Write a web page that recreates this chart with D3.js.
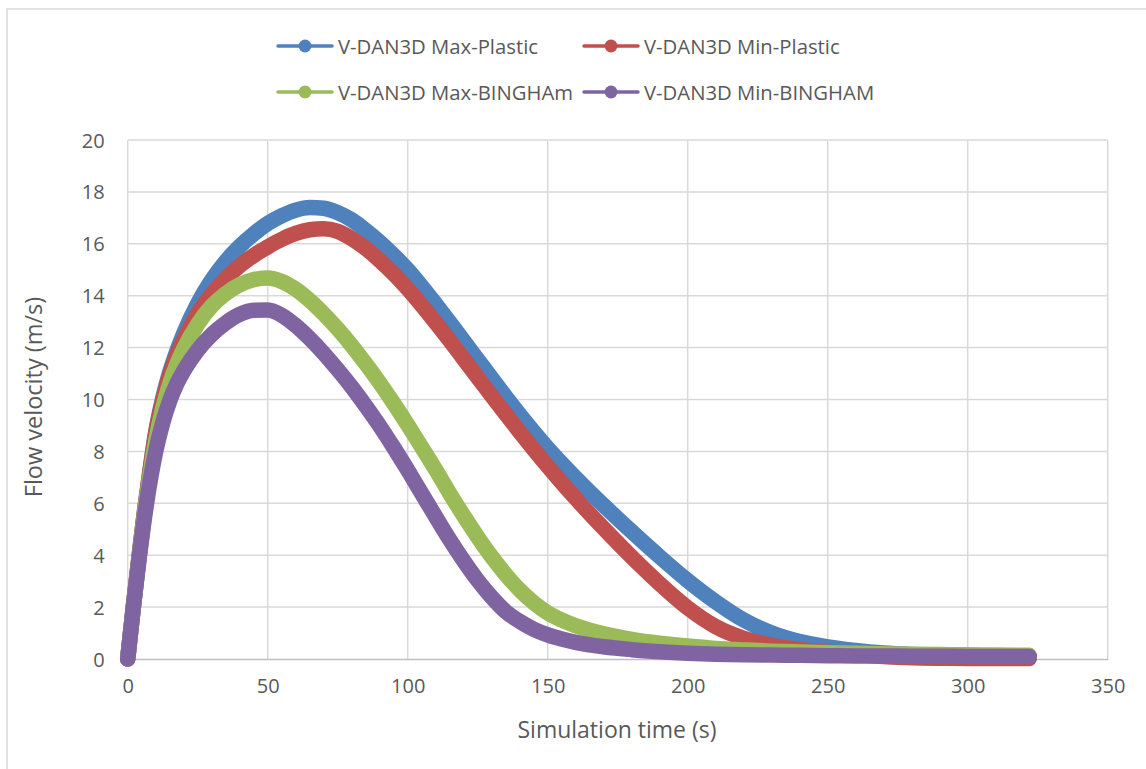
<!DOCTYPE html>
<html>
<head>
<meta charset="utf-8">
<script src="https://cdn.jsdelivr.net/npm/d3@7"></script>
<style>
  html, body { margin: 0; padding: 0; background: #fff; }
  svg { display: block; }
  text { font-family: "Open Sans", "Liberation Sans", sans-serif; fill: #595959; }
</style>
</head>
<body>
<svg id="chart" width="1146" height="769"></svg>
<script>
// Simulation time samples (s), shared by all four series
const time = [0, 2, 4, 6, 8, 10, 12.5, 15, 17.5, 20, 25, 30, 35, 40, 45, 50, 55, 60, 65, 70,
  75, 80, 85, 90, 95, 100, 105, 110, 115, 120, 125, 130, 135, 140, 145, 150, 155, 160,
  170, 180, 190, 200, 210, 220, 230, 240, 250, 260, 270, 280, 290, 300, 310, 322];

// Flow velocity (m/s) per series
const maxPlastic = [0, 2.0, 3.9, 5.7, 7.3, 8.75, 10.05, 11.05, 11.85, 12.55, 13.7, 14.6, 15.32, 15.9, 16.38, 16.78, 17.08, 17.3, 17.4, 17.37,
  17.2, 16.92, 16.52, 16.07, 15.56, 15.0, 14.36, 13.68, 12.98, 12.26, 11.54, 10.82, 10.11, 9.42, 8.76, 8.13, 7.54, 6.98,
  5.92, 4.91, 3.94, 3.02, 2.2, 1.5, 1.0, 0.67, 0.47, 0.33, 0.23, 0.17, 0.13, 0.1, 0.08, 0.07];
const minPlastic = [0, 2.0, 3.9, 5.7, 7.28, 8.7, 9.95, 10.95, 11.7, 12.3, 13.3, 14.05, 14.65, 15.15, 15.55, 15.88, 16.17, 16.4, 16.54, 16.58,
  16.48, 16.2, 15.82, 15.36, 14.84, 14.26, 13.63, 12.96, 12.27, 11.56, 10.85, 10.14, 9.44, 8.75, 8.08, 7.43, 6.8, 6.19,
  5.03, 3.93, 2.9, 1.97, 1.25, 0.8, 0.53, 0.37, 0.26, 0.17, 0.1, 0.05, 0.03, 0.02, 0.02, 0.02];
const maxBingham = [0, 2.0, 3.85, 5.6, 7.1, 8.4, 9.65, 10.6, 11.35, 11.95, 12.9, 13.6, 14.08, 14.42, 14.62, 14.68, 14.55, 14.25, 13.82, 13.3,
  12.72, 12.08, 11.38, 10.64, 9.85, 9.02, 8.16, 7.29, 6.38, 5.52, 4.7, 3.94, 3.26, 2.66, 2.17, 1.78, 1.5, 1.28,
  0.97, 0.76, 0.61, 0.5, 0.41, 0.35, 0.3, 0.27, 0.24, 0.22, 0.2, 0.18, 0.17, 0.16, 0.15, 0.14];
const minBingham = [0, 2.0, 3.8, 5.45, 6.85, 8.0, 9.1, 9.95, 10.6, 11.1, 11.9, 12.5, 12.95, 13.28, 13.44, 13.45, 13.25, 12.85, 12.35, 11.78,
  11.15, 10.48, 9.75, 8.98, 8.15, 7.28, 6.38, 5.48, 4.6, 3.78, 3.03, 2.38, 1.83, 1.45, 1.15, 0.93, 0.77, 0.64,
  0.47, 0.36, 0.28, 0.22, 0.18, 0.16, 0.15, 0.14, 0.13, 0.12, 0.12, 0.11, 0.11, 0.1, 0.1, 0.1];

const seriesNames = ["V-DAN3D Max-Plastic", "V-DAN3D Min-Plastic", "V-DAN3D Max-BINGHAm", "V-DAN3D Min-BINGHAM"];
const seriesColors = ["#4f81bd", "#c0504d", "#9bbb59", "#8064a2"];
const seriesValues = [maxPlastic, minPlastic, maxBingham, minBingham];

const xTicks = [0, 50, 100, 150, 200, 250, 300, 350];
const yTicks = [0, 2, 4, 6, 8, 10, 12, 14, 16, 18, 20];

const xTitle = "Simulation time (s)";
const yTitle = "Flow velocity (m/s)";

const svg = d3.select("#chart");

// Chart frame
svg.append("rect")
  .attr("x", 7).attr("y", 9)
  .attr("width", 1160).attr("height", 800)
  .attr("fill", "#fff").attr("stroke", "#d9d9d9").attr("stroke-width", 1.5);

const plot = { left: 127.7, right: 1107.7, top: 140, bottom: 659 };

const x = d3.scaleLinear().domain([0, 350]).range([plot.left, plot.right]);
const y = d3.scaleLinear().domain([0, 20]).range([plot.bottom, plot.top]);

// Gridlines
const grid = svg.append("g");
grid.selectAll("line.h").data(yTicks.filter(d => d > 0)).join("line")
  .attr("x1", plot.left).attr("x2", plot.right)
  .attr("y1", d => y(d)).attr("y2", d => y(d))
  .attr("stroke", "#d9d9d9").attr("stroke-width", 1.5);
grid.selectAll("line.v").data(xTicks).join("line")
  .attr("x1", d => x(d)).attr("x2", d => x(d))
  .attr("y1", plot.top).attr("y2", plot.bottom)
  .attr("stroke", "#d9d9d9").attr("stroke-width", 1.5);

// Axes
const xAxis = d3.axisBottom(x).tickValues(xTicks).tickSize(0).tickPadding(22);
const yAxis = d3.axisLeft(y).tickValues(yTicks).tickSize(0).tickPadding(23);

const gx = svg.append("g").attr("transform", `translate(0,${plot.bottom})`).call(xAxis);
gx.select(".domain").attr("stroke", "#bfbfbf").attr("stroke-width", 1.5);
gx.selectAll("text").attr("font-size", 20).attr("fill", "#595959")
  .attr("font-family", "'Open Sans', sans-serif").attr("dy", "0.6em");

const gy = svg.append("g").attr("transform", `translate(${plot.left},0)`).call(yAxis);
gy.select(".domain").remove();
gy.selectAll("text").attr("font-size", 20).attr("fill", "#595959")
  .attr("font-family", "'Open Sans', sans-serif").attr("dy", "0.35em");

// Axis titles
svg.append("text")
  .attr("x", 617).attr("y", 729)
  .attr("text-anchor", "middle").attr("dominant-baseline", "central")
  .attr("font-size", 23)
  .text(xTitle);
svg.append("text")
  .attr("transform", "translate(33,397) rotate(-90)")
  .attr("text-anchor", "middle").attr("dominant-baseline", "central")
  .attr("font-size", 23.5)
  .text(yTitle);

// Series lines, drawn in order so the later series sit on top
const line = d3.line()
  .x((d, i) => x(time[i]))
  .y(d => y(d))
  .curve(d3.curveMonotoneX);

svg.append("g").selectAll("path").data(seriesValues).join("path")
  .attr("d", d => line(d))
  .attr("fill", "none")
  .attr("stroke", (d, i) => seriesColors[i])
  .attr("stroke-width", 15.5)
  .attr("stroke-linecap", "round")
  .attr("stroke-linejoin", "round");

// Legend
const legendRows = [46, 92];
const legendCols = [278, 584];
const legend = svg.append("g");
seriesNames.forEach((name, i) => {
  const lx = legendCols[i % 2];
  const ly = legendRows[Math.floor(i / 2)];
  const g = legend.append("g");
  g.append("line")
    .attr("x1", lx).attr("x2", lx + 54)
    .attr("y1", ly).attr("y2", ly)
    .attr("stroke", seriesColors[i]).attr("stroke-width", 3.5)
    .attr("stroke-linecap", "round");
  g.append("circle")
    .attr("cx", lx + 27).attr("cy", ly).attr("r", 6.5)
    .attr("fill", seriesColors[i]);
  g.append("text")
    .attr("x", lx + 60).attr("y", ly)
    .attr("dominant-baseline", "central")
    .attr("font-size", 20.3)
    .text(name);
});
</script>
</body>
</html>
